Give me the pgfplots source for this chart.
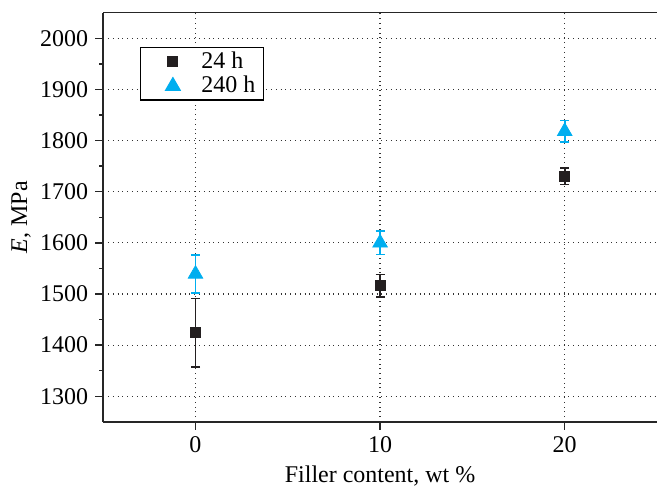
\documentclass[border=0pt]{standalone}
\usepackage{fontspec}
\setmainfont{Liberation Serif}
\usepackage{pgfplots}
\pgfplotsset{compat=1.18}
\definecolor{cyanpt}{RGB}{0,174,239}
\definecolor{sqblack}{RGB}{35,31,32}

\begin{document}
\begin{tikzpicture}
\begin{axis}[
    scale only axis,
    width=277.2pt, height=204.8pt,
    xmin=-5, xmax=25, ymin=1250, ymax=2050,
    xtick={0,10,20}, ytick={1300,1400,...,2000},
    minor y tick num=1,
    separate axis lines,
    axis x line=box, axis y line=left,
    xtick pos=left, ytick pos=left,
    tick align=outside,
    major tick length=4pt, minor tick length=2pt,
    axis line style={-, line width=0.8pt, black!85},
    tick style={line width=0.7pt, black!85},
    grid=major,
    grid style={dotted, black!80, line width=0.6pt},
    /pgf/number format/assume math mode=true,
    /pgf/number format/1000 sep={},
    ticklabel style={font=\fontsize{12}{14}\selectfont},
    xlabel={Filler content, wt \%},
    ylabel={\textit{E}, MPa},
    label style={font=\fontsize{12}{14}\selectfont},
    xlabel style={at={(axis description cs:0.5,-0.147)}, anchor=base},
    ylabel style={at={(axis description cs:-0.148,0.5)}, anchor=center},
    legend style={at={(axis description cs:0.066,0.916)}, anchor=north west,
      draw=black, line width=0.6pt, font=\fontsize{12}{14}\selectfont,
      inner xsep=2pt, inner ysep=1.5pt, row sep=1.5pt,
      nodes={inner ysep=0.5pt}},
    legend cell align=left,
    legend image code/.code={%
      \draw[#1] plot coordinates {(0pt,0pt)};
      \path (-14pt,0pt) (12pt,0pt);},
  ]
  % 24 h
  \addplot[only marks, mark=square*, mark size=2.5pt, sqblack,
    mark options={fill=sqblack},
    error bars/.cd, y dir=both, y explicit,
    error bar style={line width=0.8pt, sqblack},
    error mark options={rotate=90, mark size=2.3pt, line width=0.8pt, sqblack}]
    coordinates {
      (0,1424) +- (0,67)
      (10,1516) +- (0,22)
      (20,1730) +- (0,16)
    };
  \addlegendentry{24 h}
  % 240 h
  \addplot[only marks, mark=triangle*, mark size=4.2pt, cyanpt,
    mark options={fill=cyanpt},
    error bars/.cd, y dir=both, y explicit,
    error bar style={line width=0.8pt, cyanpt},
    error mark options={rotate=90, mark size=2.3pt, line width=0.8pt, cyanpt}]
    coordinates {
      (0,1539) +- (0,37)
      (10,1600) +- (0,23)
      (20,1818) +- (0,21)
    };
  \addlegendentry{240 h}
\end{axis}
\pgfresetboundingbox
\path (current axis.south west) ++(-51.65pt,-32.5pt) coordinate (bbsw);
\path (current axis.north east) ++(0pt,6.35pt) coordinate (bbne);
\path[use as bounding box] (bbsw) rectangle (bbne);
\end{tikzpicture}
\end{document}
